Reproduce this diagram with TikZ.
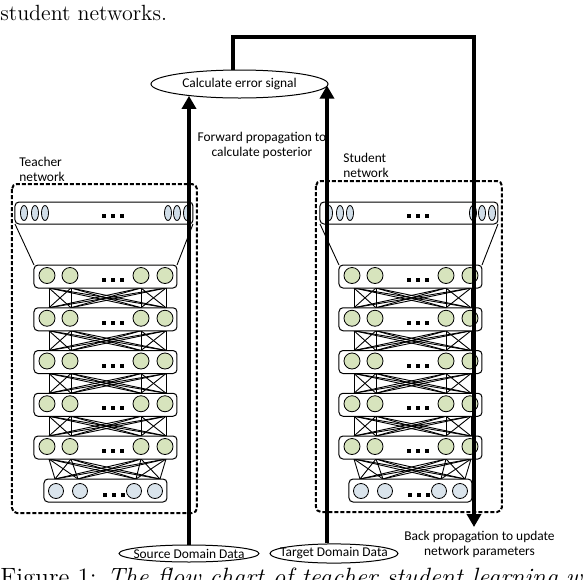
\documentclass[tikz,border=0pt]{standalone}
\usepackage{fontspec}
\usetikzlibrary{shapes.geometric, arrows.meta}
\newfontfamily\calib{Carlito}
\definecolor{hidfill}{HTML}{D7E4BD}
\definecolor{infill}{HTML}{DAE4EC}
\definecolor{outfill}{HTML}{D0DDE8}

\begin{document}
\begin{tikzpicture}[x=0.5pt, y=-0.5pt, >={Triangle[width=7pt,length=6.5pt]},
    lbl/.style={font=\calib\fontsize{6.7}{7.5}\selectfont, inner sep=0pt},
    data/.style={lbl, draw, ellipse, line width=0.5pt, inner ysep=0.5pt, inner xsep=-10pt, minimum height=8.5pt},
    layer/.style={draw, rounded corners=2pt, line width=0.5pt, inner sep=0pt, fill=white},
    netbox/.style={draw, line width=1pt, dash pattern=on 2pt off 1pt, rounded corners=2.5pt},
    link/.style={line width=0.45pt},
    flow/.style={->, line width=2pt}]
  \useasboundingbox (0,0) rectangle (586,580);
  \node[anchor=base west, inner sep=0pt, font=\fontsize{11}{13}\selectfont] (prev) at (0,20) {student networks.};
  \node[anchor=base west, inner sep=0pt, font=\fontsize{12.5}{15}\selectfont] (cap) at (0,585) {Figure 1: \textit{The flow chart of teacher student learning w}};

  \draw[netbox] (12,184) rectangle (197,513);
  \draw[netbox] (316,181) rectangle (502,512);
  \node[lbl, align=left, anchor=west] (tlab) at (19,169) {Teacher\\network};
  \node[lbl, align=left, anchor=west] (slab) at (343,165) {Student\\network};

  \foreach \net/\dx in {t/0, s/305} {
    \begin{scope}[shift={(\dx,0)}]
      \draw[link] (15,224) -- (34,265) (193,224) -- (177,265);
      \foreach \k in {0,...,3} {
        \pgfmathsetmacro\ly{265+42.75*\k}
        \foreach \a in {49,71,141,166}
          \foreach \b in {49,71,141,166}
            \draw[link] (\a,\ly+23) -- (\b,\ly+42.75);
      }
      \foreach \a in {49,71,141,166}
        \foreach \b in {55,78,136,160}
          \draw[link] (\a,459) -- (\b,479);
      % output layer
      \node[layer, minimum width=89pt, minimum height=11pt] (\net-out) at (104,213) {};
      \foreach \x in {24,35,45,168,177,187}
        \filldraw[fill=outfill, line width=0.4pt] (\x,213) ellipse (1.75pt and 3.75pt);
      \foreach \x in {104,113,122}
        \fill (\x-2,214) rectangle ++(4,4);
      % hidden layers
      \foreach \k in {0,...,4} {
        \pgfmathsetmacro\ly{265+42.75*\k}
        \node[layer, minimum width=71.5pt, minimum height=11.5pt] (\net-h\k) at (105.5,\ly+11.5) {};
        \foreach \x in {47,70,141,165}
          \filldraw[fill=hidfill, line width=0.4pt] (\x,\ly+10.5) circle (4pt);
        \foreach \x in {104,113,122}
          \fill (\x-2,\ly+13) rectangle ++(4,4);
      }
      % input layer
      \node[layer, minimum width=61.5pt, minimum height=11.5pt] (\net-in) at (105.5,490.5) {};
      \foreach \x in {56,80,134,155}
        \filldraw[fill=infill, line width=0.4pt] (\x,491) circle (3.75pt);
      \foreach \x in {105,114,123}
        \fill (\x-2,493) rectangle ++(4,4);
    \end{scope}
  }

  \node[data, minimum width=88.5pt, minimum height=14pt] (err) at (239.5,84) {Calculate error signal};
  \node[data, minimum width=70pt] (src) at (189,553.5) {Source Domain Data};
  \node[data, minimum width=64pt] (tgt) at (334,553.5) {Target Domain Data};
  \node[lbl, align=center] (fwd) at (262,145.5) {Forward propagation to\\calculate posterior};
  \node[lbl, align=center, anchor=north, inner ysep=2pt] (bp) at (479.5,527) {Back propagation to update\\network parameters};

  \coordinate (tin) at ([xshift=-3.5pt]tgt.north);
  \coordinate (turn) at (474,37);
  \draw[flow] (src.north) -- (src.north |- err.193);
  \draw[flow] (tin) -- (tin |- err.359);
  \draw[flow] ([xshift=-3.25pt]err.north) |- (turn) -- (turn |- bp.north);
\end{tikzpicture}
\end{document}
